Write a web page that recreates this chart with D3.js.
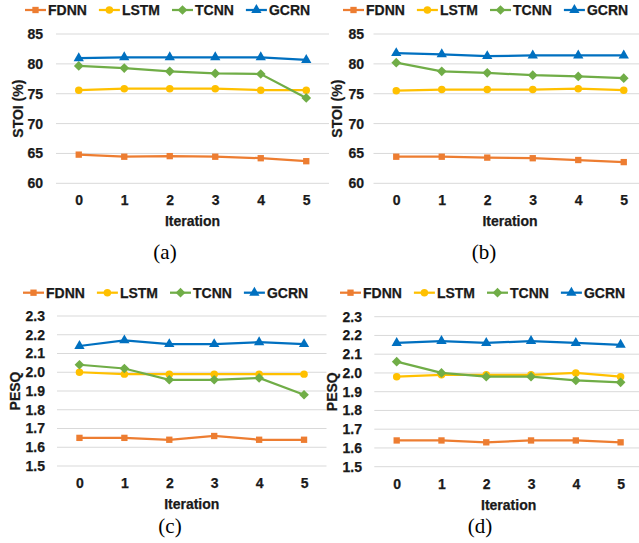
<!DOCTYPE html>
<html>
<head>
<meta charset="utf-8">
<script src="https://cdn.jsdelivr.net/npm/d3@7"></script>
<style>
  body { margin: 0; background: #fff; }
  svg { display: block; }
  .sans { font-family: "Liberation Sans", Arial, sans-serif; font-weight: bold; font-size: 14px; fill: #1a1a1a; stroke: #1a1a1a; stroke-width: 0.25px; }
  .caption { font-family: "Liberation Serif", "Times New Roman", serif; font-size: 21px; fill: #000; }
</style>
</head>
<body>
<svg id="canvas" width="639" height="543"></svg>
<script>
// categories and series
let iterations = ['0', '1', '2', '3', '4', '5'];
let seriesNames = ['FDNN', 'LSTM', 'TCNN', 'GCRN'];
let seriesColors = ['#ED7D31', '#FFC000', '#70AD47', '#0070C0'];

// tick labels
let stoiTicks = [60, 65, 70, 75, 80, 85];
let pesqTicks = [1.5, 1.6, 1.7, 1.8, 1.9, 2.0, 2.1, 2.2, 2.3];

// values, one row per series (FDNN, LSTM, TCNN, GCRN)
let stoiA = [
    [64.8, 64.45, 64.55, 64.45, 64.2, 63.7],
    [75.6, 75.85, 75.85, 75.85, 75.6, 75.6],
    [79.65, 79.3, 78.75, 78.4, 78.3, 74.3],
    [80.95, 81.1, 81.1, 81.1, 81.1, 80.65]
];
let stoiB = [
    [64.45, 64.45, 64.3, 64.2, 63.9, 63.55],
    [75.5, 75.7, 75.7, 75.7, 75.85, 75.6],
    [80.2, 78.75, 78.5, 78.1, 77.9, 77.6],
    [81.8, 81.6, 81.3, 81.4, 81.4, 81.4]
];
let pesqC = [
    [1.65, 1.65, 1.64, 1.66, 1.64, 1.64],
    [2.00, 1.99, 1.99, 1.99, 1.99, 1.99],
    [2.04, 2.02, 1.96, 1.96, 1.97, 1.88],
    [2.14, 2.17, 2.15, 2.15, 2.16, 2.15]
];
let pesqD = [
    [1.64, 1.64, 1.63, 1.64, 1.64, 1.63],
    [1.98, 1.99, 1.99, 1.99, 2.00, 1.98],
    [2.06, 2.00, 1.98, 1.98, 1.96, 1.95],
    [2.16, 2.17, 2.16, 2.17, 2.16, 2.15]
];

let canvas = d3.select('#canvas');

let markerShapes = [d3.symbolSquare, d3.symbolCircle, d3.symbolDiamond2, d3.symbolTriangle];
let markerSizes = [40, 44, 60, 46];

let drawMarker = (sel, i) => {
    sel.append('path')
        .attr('d', d3.symbol().type(markerShapes[i]).size(markerSizes[i])())
        .attr('fill', seriesColors[i]);
};

//draws one of the four small line charts
let drawPanel = (p) => {
    let g = canvas.append('g');

    let x = d3.scalePoint()
                .domain(iterations)
                .range([p.left, p.right])
                .padding(0.5);
    let y = d3.scaleLinear()
                .domain([p.ticks[0], p.ticks[p.ticks.length - 1]])
                .range([p.bottom, p.top]);

    //gridlines
    g.selectAll('.grid')
        .data(p.ticks)
        .enter()
        .append('line')
        .attr('x1', p.left)
        .attr('x2', p.right)
        .attr('y1', (d) => y(d))
        .attr('y2', (d) => y(d))
        .attr('stroke', '#d9d9d9')
        .attr('stroke-width', 1);

    //y axis labels
    let yAxis = d3.axisLeft(y).tickValues(p.ticks).tickSize(0).tickPadding(0)
                    .tickFormat(p.format);
    let ya = g.append('g')
                .attr('transform', 'translate(' + p.labelRight + ',0)')
                .call(yAxis);
    ya.select('.domain').remove();
    ya.selectAll('text').attr('class', 'sans');

    //x axis labels
    let xAxis = d3.axisBottom(x).tickSize(0).tickPadding(0);
    let xa = g.append('g')
                .attr('transform', 'translate(0,' + (p.bottom + 12) + ')')
                .call(xAxis);
    xa.select('.domain').remove();
    xa.selectAll('text').attr('class', 'sans');

    //axis titles
    g.append('text')
        .attr('class', 'sans')
        .text('Iteration')
        .attr('x', (p.left + p.right) / 2)
        .attr('y', p.bottom + 43)
        .attr('text-anchor', 'middle');
    g.append('text')
        .attr('class', 'sans')
        .text(p.yTitle)
        .attr('transform', 'translate(' + p.yTitleX + ',' + (p.top + p.bottom) / 2 + ') rotate(-90)')
        .attr('text-anchor', 'middle');

    //lines and markers
    let line = d3.line()
                .x((d, k) => x(iterations[k]))
                .y((d) => y(d));
    p.values.forEach((vals, i) => {
        g.append('path')
            .attr('d', line(vals))
            .attr('fill', 'none')
            .attr('stroke', seriesColors[i])
            .attr('stroke-width', 2.25);
        vals.forEach((v, k) => {
            let m = g.append('g')
                        .attr('transform', 'translate(' + x(iterations[k]) + ',' + y(v) + ')');
            drawMarker(m, i);
        });
    });

    //legend
    let lx = p.legendX;
    seriesNames.forEach((name, i) => {
        let item = g.append('g');
        item.append('line')
            .attr('x1', lx)
            .attr('x2', lx + 21)
            .attr('y1', p.legendY)
            .attr('y2', p.legendY)
            .attr('stroke', seriesColors[i])
            .attr('stroke-width', 2.25);
        let m = item.append('g')
                    .attr('transform', 'translate(' + (lx + 10.5) + ',' + p.legendY + ')');
        drawMarker(m, i);
        let t = item.append('text')
                    .attr('class', 'sans')
                    .text(name)
                    .attr('x', lx + 23)
                    .attr('y', p.legendY + 5);
        lx += 23 + t.node().getComputedTextLength() + 12;
    });

    //caption
    g.append('text')
        .attr('class', 'caption')
        .text(p.caption)
        .attr('x', p.captionX)
        .attr('y', p.captionY)
        .attr('text-anchor', 'middle');
};

let fmt1 = d3.format('.1f');
let fmt0 = d3.format('d');

drawPanel({values: stoiA, ticks: stoiTicks, format: fmt0, yTitle: 'STOI (%)',
    left: 56, right: 329, top: 34, bottom: 183.3, labelRight: 43, yTitleX: 23,
    legendX: 25, legendY: 10, caption: '(a)', captionX: 165, captionY: 259});
drawPanel({values: stoiB, ticks: stoiTicks, format: fmt0, yTitle: 'STOI (%)',
    left: 373.5, right: 646.5, top: 34, bottom: 183.3, labelRight: 364, yTitleX: 342,
    legendX: 343, legendY: 10, caption: '(b)', captionX: 484, captionY: 259});
drawPanel({values: pesqC, ticks: pesqTicks, format: fmt1, yTitle: 'PESQ',
    left: 57, right: 326.5, top: 316, bottom: 466, labelRight: 45, yTitleX: 19.5,
    legendX: 23, legendY: 292.7, caption: '(c)', captionX: 170, captionY: 533});
drawPanel({values: pesqD, ticks: pesqTicks, format: fmt1, yTitle: 'PESQ',
    left: 374.3, right: 643, top: 316.7, bottom: 466.7, labelRight: 362, yTitleX: 337,
    legendX: 340, legendY: 292.7, caption: '(d)', captionX: 480, captionY: 533});
</script>
</body>
</html>
